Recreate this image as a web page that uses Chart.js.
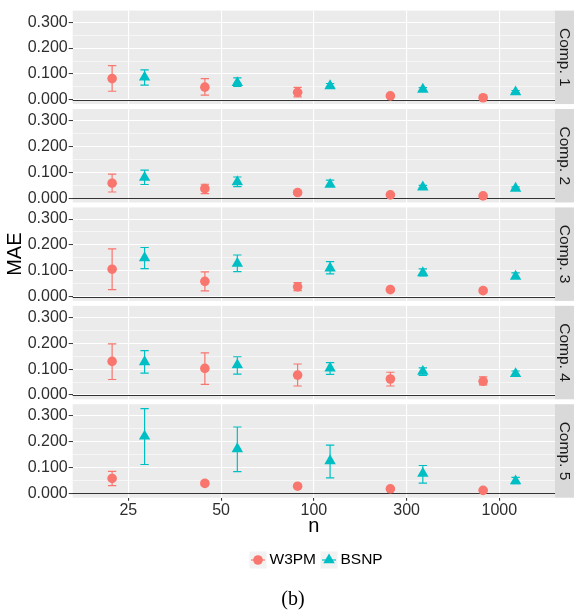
<!DOCTYPE html>
<html>
<head>
<meta charset="utf-8">
<script src="https://cdn.jsdelivr.net/npm/chart.js@4.4.1/dist/chart.umd.min.js"></script>
<style>
  html, body { margin: 0; padding: 0; background: #ffffff; }
  #wrap { width: 574px; height: 612px; }
</style>
</head>
<body>
<div id="wrap"><canvas id="maeChart" width="574" height="612"></canvas></div>
<script>
var nLabels = ['25', '50', '100', '300', '1000'];
var compLabels = ['Comp. 1', 'Comp. 2', 'Comp. 3', 'Comp. 4', 'Comp. 5'];
var yMajor = [0, 0.1, 0.2, 0.3];
var yMinor = [0.05, 0.15, 0.25];

// W3PM: mean MAE and error bar ends, one row per component
var w3pmMean = [
    [0.082, 0.049, 0.029, 0.015, 0.008],
    [0.058, 0.037, 0.022, 0.013, 0.009],
    [0.106, 0.059, 0.038, 0.027, 0.023],
    [0.130, 0.103, 0.077, 0.062, 0.053],
    [0.058, 0.039, 0.028, 0.018, 0.012]
];
var w3pmLow = [
    [0.033, 0.018, 0.011, 0.011, 0.005],
    [0.024, 0.018, 0.016, 0.009, 0.006],
    [0.027, 0.022, 0.023, 0.023, 0.019],
    [0.060, 0.041, 0.035, 0.035, 0.039],
    [0.030, 0.031, 0.024, 0.014, 0.008]
];
var w3pmHigh = [
    [0.132, 0.082, 0.048, 0.019, 0.011],
    [0.093, 0.054, 0.028, 0.017, 0.012],
    [0.185, 0.096, 0.054, 0.031, 0.027],
    [0.198, 0.163, 0.120, 0.088, 0.070],
    [0.085, 0.048, 0.032, 0.022, 0.016]
];

// BSNP
var bsnpMean = [
    [0.087, 0.066, 0.054, 0.040, 0.030],
    [0.080, 0.063, 0.053, 0.043, 0.038],
    [0.150, 0.128, 0.110, 0.092, 0.078],
    [0.128, 0.116, 0.104, 0.091, 0.082],
    [0.221, 0.172, 0.126, 0.077, 0.048]
];
var bsnpLow = [
    [0.057, 0.052, 0.050, 0.037, 0.028],
    [0.053, 0.045, 0.047, 0.040, 0.035],
    [0.108, 0.097, 0.088, 0.080, 0.070],
    [0.085, 0.081, 0.080, 0.076, 0.076],
    [0.112, 0.084, 0.060, 0.040, 0.038]
];
var bsnpHigh = [
    [0.116, 0.085, 0.063, 0.047, 0.036],
    [0.109, 0.082, 0.070, 0.050, 0.044],
    [0.190, 0.161, 0.135, 0.107, 0.092],
    [0.172, 0.148, 0.125, 0.105, 0.093],
    [0.328, 0.257, 0.187, 0.108, 0.062]
];

var RED = '#F8766D';
var TEAL = '#00BFC4';
var FONT = "'Liberation Sans', Arial, Helvetica, sans-serif";
var DODGE = 0.175;
var CAP = 0.09;
var PANEL_W = 94.54;
var GAP_W = 5;

Chart.defaults.font.family = FONT;

function isMajor(v) {
    return Math.abs(v * 10 - Math.round(v * 10)) < 1e-6;
}

function sized(scale) {
    scale.width = 72.7;
}

function panelScale(weight) {
    return {
        type: 'linear',
        position: 'left',
        stack: 'comp',
        stackWeight: PANEL_W,
        weight: weight,
        min: -0.0165,
        max: 0.345,
        afterBuildTicks: function (scale) {
            scale.ticks = yMajor.concat(yMinor)
                .sort(function (a, b) { return a - b; })
                .map(function (v) { return { value: v }; });
        },
        afterFit: sized,
        ticks: {
            padding: 1,
            autoSkip: false,
            color: '#2e2e2e',
            font: { size: 16 },
            callback: function (v) { return isMajor(v) ? v.toFixed(3) : ''; }
        },
        grid: {
            color: '#ffffff',
            lineWidth: function (ctx) { return isMajor(ctx.tick.value) ? 1.1 : 0.55; },
            tickLength: 4,
            tickColor: function (ctx) { return isMajor(ctx.tick.value) ? '#333333' : 'rgba(0,0,0,0)'; },
            tickWidth: 1
        },
        border: { display: false }
    };
}

function gapScale(weight) {
    return {
        type: 'linear',
        position: 'left',
        stack: 'comp',
        stackWeight: GAP_W,
        weight: weight,
        display: false,
        afterFit: sized
    };
}

var scales = {
    x: {
        type: 'linear',
        min: -0.6,
        max: 4.6,
        afterBuildTicks: function (scale) {
            scale.ticks = nLabels.map(function (l, i) { return { value: i }; });
        },
        afterFit: function (scale) { scale.height = 41; },
        ticks: {
            padding: 0,
            color: '#2e2e2e',
            font: { size: 16 },
            maxRotation: 0,
            autoSkip: false,
            callback: function (v) { return nLabels[v]; }
        },
        grid: { color: '#ffffff', lineWidth: 1.1, tickLength: 3, tickColor: '#333333' },
        border: { display: false },
        title: { display: true, text: 'n', color: '#000000', font: { size: 20 }, padding: { top: 0, bottom: 0 } }
    }
};

var datasets = [];
compLabels.forEach(function (c, k) {
    var yId = 'y' + (k + 1);
    scales[yId] = panelScale(20 - 2 * k);
    if (k < compLabels.length - 1) {
        scales['gap' + (k + 1)] = gapScale(19 - 2 * k);
    }
    datasets.push({
        label: 'W3PM',
        yAxisID: yId,
        data: w3pmMean[k].map(function (v, i) { return { x: i - DODGE, y: v }; }),
        errLow: w3pmLow[k],
        errHigh: w3pmHigh[k],
        backgroundColor: RED,
        pointStyle: 'circle',
        pointRadius: 4.8,
        borderWidth: 0
    });
    datasets.push({
        label: 'BSNP',
        yAxisID: yId,
        data: bsnpMean[k].map(function (v, i) { return { x: i + DODGE, y: v }; }),
        errLow: bsnpLow[k],
        errHigh: bsnpHigh[k],
        backgroundColor: TEAL,
        pointStyle: 'triangle',
        pointRadius: 6.6,
        borderWidth: 0
    });
});

var facetPlugin = {
    id: 'facets',
    beforeDraw: function (chart) {
        var ctx = chart.ctx;
        var area = chart.chartArea;
        ctx.save();
        compLabels.forEach(function (c, k) {
            var s = chart.scales['y' + (k + 1)];
            ctx.fillStyle = '#ebebeb';
            ctx.fillRect(area.left, s.top, area.right - area.left, s.bottom - s.top);
            ctx.fillStyle = '#d9d9d9';
            ctx.fillRect(area.right, s.top, chart.width - area.right, s.bottom - s.top);
            ctx.save();
            ctx.translate((area.right + chart.width) / 2, (s.top + s.bottom) / 2);
            ctx.rotate(Math.PI / 2);
            ctx.fillStyle = '#1a1a1a';
            ctx.font = '15.5px ' + FONT;
            ctx.textAlign = 'center';
            ctx.textBaseline = 'middle';
            ctx.fillText(c, 0, 0);
            ctx.restore();
        });
        ctx.restore();
    },
    beforeDatasetsDraw: function (chart) {
        var ctx = chart.ctx;
        var area = chart.chartArea;
        var xs = chart.scales.x;
        var half = (xs.getPixelForValue(CAP) - xs.getPixelForValue(0)) / 2;
        ctx.save();
        // reference line at zero in each panel
        compLabels.forEach(function (c, k) {
            var y0 = Math.round(chart.scales['y' + (k + 1)].getPixelForValue(0)) + 0.5;
            ctx.strokeStyle = '#333333';
            ctx.lineWidth = 1.1;
            ctx.beginPath();
            ctx.moveTo(area.left, y0);
            ctx.lineTo(area.right, y0);
            ctx.stroke();
        });
        // error bars
        chart.data.datasets.forEach(function (ds, i) {
            var meta = chart.getDatasetMeta(i);
            var ys = chart.scales[ds.yAxisID];
            ctx.strokeStyle = ds.backgroundColor;
            ctx.lineWidth = 1.2;
            meta.data.forEach(function (pt, j) {
                var lo = ys.getPixelForValue(ds.errLow[j]);
                var hi = ys.getPixelForValue(ds.errHigh[j]);
                ctx.beginPath();
                ctx.moveTo(pt.x, lo);
                ctx.lineTo(pt.x, hi);
                ctx.moveTo(pt.x - half, lo);
                ctx.lineTo(pt.x + half, lo);
                ctx.moveTo(pt.x - half, hi);
                ctx.lineTo(pt.x + half, hi);
                ctx.stroke();
            });
        });
        ctx.restore();
    },
    afterDraw: function (chart) {
        var ctx = chart.ctx;
        var area = chart.chartArea;
        ctx.save();
        // y axis title
        ctx.translate(15, (area.top + area.bottom) / 2);
        ctx.rotate(-Math.PI / 2);
        ctx.fillStyle = '#000000';
        ctx.font = '20px ' + FONT;
        ctx.textAlign = 'center';
        ctx.textBaseline = 'middle';
        ctx.fillText('MAE', 0, 0);
        ctx.restore();

        // legend
        var keys = [
            { text: 'W3PM', color: RED, style: 'circle', r: 4.8, cx: 258 },
            { text: 'BSNP', color: TEAL, style: 'triangle', r: 6.6, cx: 329 }
        ];
        var cy = 560;
        ctx.save();
        keys.forEach(function (k) {
            ctx.fillStyle = '#f2f2f2';
            ctx.fillRect(k.cx - 8.5, cy - 8.5, 17, 17);
            ctx.strokeStyle = k.color;
            ctx.lineWidth = 1.2;
            ctx.beginPath();
            ctx.moveTo(k.cx - 7, cy);
            ctx.lineTo(k.cx + 7, cy);
            ctx.stroke();
            ctx.fillStyle = k.color;
            Chart.helpers.drawPoint(ctx, { pointStyle: k.style, radius: k.r, borderWidth: 0, rotation: 0 }, k.cx, cy);
            ctx.fillStyle = '#000000';
            ctx.font = '15.5px ' + FONT;
            ctx.textAlign = 'left';
            ctx.textBaseline = 'middle';
            ctx.fillText(k.text, k.cx + 11.5, cy);
        });
        ctx.fillStyle = '#000000';
        ctx.font = "20px 'Liberation Serif', 'Times New Roman', serif";
        ctx.textAlign = 'center';
        ctx.textBaseline = 'middle';
        ctx.fillText('(b)', 293, 600);
        ctx.restore();
    }
};

new Chart(document.getElementById('maeChart'), {
    type: 'scatter',
    data: { datasets: datasets },
    options: {
        responsive: false,
        animation: false,
        events: [],
        layout: { padding: { top: 5, right: 19, bottom: 73.3, left: 0 } },
        plugins: {
            legend: { display: false },
            tooltip: { enabled: false }
        },
        scales: scales
    },
    plugins: [facetPlugin]
});
</script>
</body>
</html>
